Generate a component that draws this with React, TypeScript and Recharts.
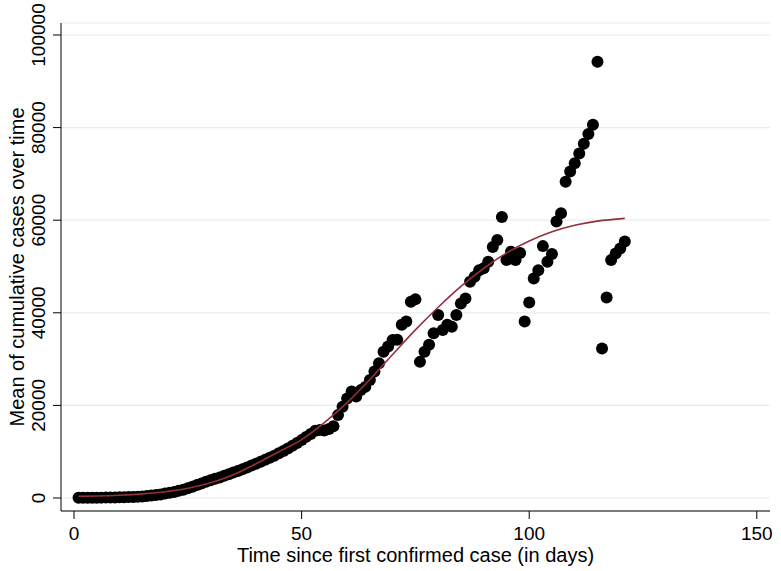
import React from 'react';
import { ComposedChart, Scatter, Line, XAxis, YAxis, CartesianGrid, Label } from 'recharts';

const days = [
  1, 2, 3, 4, 5, 6, 7, 8, 9, 10, 11, 12, 13, 14, 15, 16, 17, 18, 19, 20,
  21, 22, 23, 24, 25, 26, 27, 28, 29, 30, 31, 32, 33, 34, 35, 36, 37, 38, 39, 40,
  41, 42, 43, 44, 45, 46, 47, 48, 49, 50, 51, 52, 53, 54, 55, 56, 57, 58, 59, 60,
  61, 62, 63, 64, 65, 66, 67, 68, 69, 70, 71, 72, 73, 74, 75, 76, 77, 78, 79, 80,
  81, 82, 83, 84, 85, 86, 87, 88, 89, 90, 91, 92, 93, 94, 95, 96, 97, 98, 99, 100,
  101, 102, 103, 104, 105, 106, 107, 108, 109, 110, 111, 112, 113, 114, 115, 116, 117, 118, 119, 120,
  121,
];

const meanCases = [
  30, 40, 50, 60, 70, 80, 90, 100, 120, 140, 160, 190, 230, 280, 340, 420, 520, 640, 780, 950,
  1120, 1320, 1550, 1800, 2100, 2450, 2800, 3150, 3500, 3850, 4150, 4450, 4800, 5150, 5500, 5850, 6200, 6600, 7000, 7400,
  7850, 8250, 8700, 9150, 9650, 10150, 10700, 11300, 11900, 12500, 13200, 13800, 14500, 14700, 14600, 14900, 15500, 17900, 19700, 21500,
  23000, 21900, 23300, 24000, 25500, 27300, 29100, 31600, 32700, 34100, 34200, 37400, 38100, 42400, 42900, 29400, 31600, 33100, 35600, 39500,
  36300, 37400, 37000, 39500, 42000, 43100, 46700, 47800, 49200, 49600, 51000, 54200, 55700, 60700, 51400, 53200, 51400, 52900, 38100, 42200,
  47400, 49200, 54400, 51000, 52700, 59700, 61500, 68300, 70500, 72300, 74400, 76500, 78600, 80600, 94200, 32300, 43300, 51400, 52800, 53900,
  55400,
];

const fitDays = [1, 5, 10, 15, 20, 25, 30, 35, 40, 45, 50, 55, 60, 65, 70, 75, 80, 85, 90, 95, 100, 105, 110, 115, 121];
const fitValues = [
  350, 420, 600, 900, 1350, 2100, 3300, 5000, 7400, 10000, 12600, 16300, 20600, 25600, 31000,
  36300, 41200, 45700, 49600, 52900, 55500, 57500, 58900, 59800, 60400,
];

const xTicks = [0, 50, 100, 150];
const yTicks = [0, 20000, 40000, 60000, 80000, 100000];

const xTitle = 'Time since first confirmed case (in days)';
const yTitle = 'Mean of cumulative cases over time';

const scatterData = days.map((d, i) => ({ x: d, y: meanCases[i] }));
const fitData = fitDays.map((d, i) => ({ x: d, fit: fitValues[i] }));

const FONT = '"Liberation Sans", Arial, sans-serif';
const FS = 19;

const XTick = (props: any) => {
  const { x, payload } = props;
  return (
    <text x={x} y={540} textAnchor="middle" fontFamily={FONT} fontSize={FS} fill="#000">
      {payload.value}
    </text>
  );
};

const YTick = (props: any) => {
  const { y, payload } = props;
  return (
    <text
      x={0}
      y={0}
      transform={`translate(45, ${y}) rotate(-90)`}
      textAnchor="middle"
      fontFamily={FONT}
      fontSize={FS}
      fill="#000"
    >
      {payload.value}
    </text>
  );
};

const Dot = (props: any) => {
  const { cx, cy } = props;
  if (cx == null || cy == null) return null;
  return <circle cx={cx} cy={cy} r={6} fill="#000" />;
};

export default function App() {
  return (
    <div style={{ position: 'absolute', left: 0, top: 0, width: 781, height: 571, background: '#fff' }}>
      <ComposedChart
        width={781}
        height={571}
        margin={{ top: 23, right: 11, left: 0, bottom: 0 }}
      >
        <CartesianGrid vertical={false} stroke="#e4eef0" strokeWidth={1.2} />
        <XAxis
          type="number"
          dataKey="x"
          domain={[-2.86, 152.9]}
          ticks={xTicks}
          allowDataOverflow
          height={60}
          tickSize={8}
          axisLine={{ stroke: '#000', strokeWidth: 1 }}
          tickLine={{ stroke: '#000', strokeWidth: 1 }}
          tick={<XTick />}
        >
          <Label
            content={(p: any) => {
              const vb = p.viewBox;
              return (
                <text x={vb.x + vb.width / 2} y={562} textAnchor="middle" fontFamily={FONT} fontSize={FS + 1} fill="#000">
                  {xTitle}
                </text>
              );
            }}
          />
        </XAxis>
        <YAxis
          type="number"
          domain={[-2808, 102590]}
          ticks={yTicks}
          allowDataOverflow
          width={61}
          tickSize={8}
          axisLine={{ stroke: '#000', strokeWidth: 1 }}
          tickLine={{ stroke: '#000', strokeWidth: 1 }}
          tick={<YTick />}
        >
          <Label
            content={(p: any) => {
              const vb = p.viewBox;
              return (
                <text
                  x={0}
                  y={0}
                  transform={`translate(24, ${vb.y + vb.height / 2}) rotate(-90)`}
                  textAnchor="middle"
                  fontFamily={FONT}
                  fontSize={FS + 1}
                  fill="#000"
                >
                  {yTitle}
                </text>
              );
            }}
          />
        </YAxis>
        <Scatter data={scatterData} dataKey="y" shape={<Dot />} isAnimationActive={false} />
        <Line
          data={fitData}
          dataKey="fit"
          type="monotone"
          stroke="#93303a"
          strokeWidth={1.6}
          dot={false}
          activeDot={false}
          isAnimationActive={false}
          zIndex={900}
        />
      </ComposedChart>
    </div>
  );
}
